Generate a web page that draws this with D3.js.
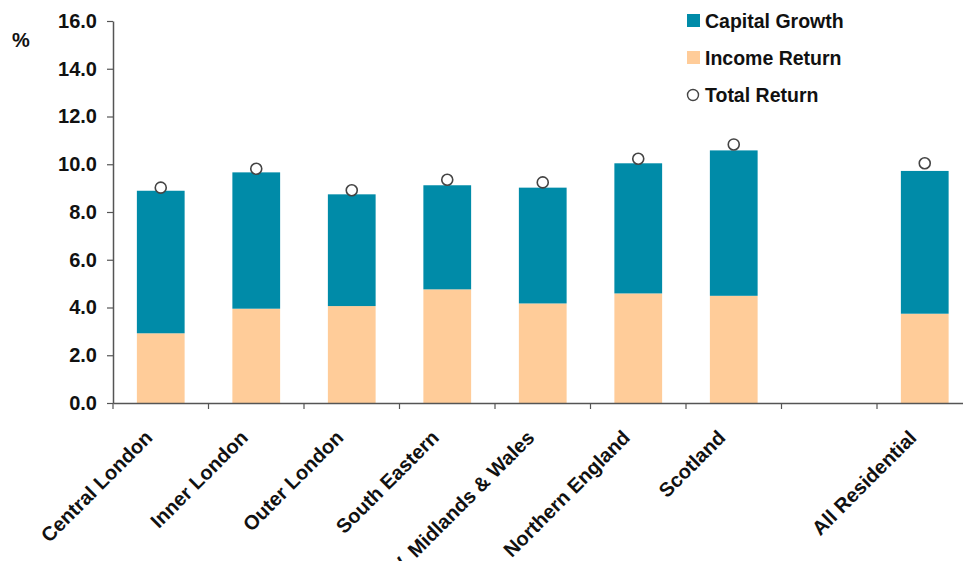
<!DOCTYPE html>
<html>
<head>
<meta charset="utf-8">
<script src="https://cdn.jsdelivr.net/npm/d3@7"></script>
<style>
  html, body { margin: 0; padding: 0; background: #fff; }
  svg { display: block; font-family: "Liberation Sans", Arial, sans-serif; }
</style>
</head>
<body>
<svg id="chart" width="963" height="561"></svg>
<script>
const categories = ["Central London", "Inner London", "Outer London", "South Eastern", "W. Midlands & Wales", "Northern England", "Scotland", "", "All Residential"];
const incomeReturn = [2.92, 3.95, 4.06, 4.76, 4.17, 4.59, 4.49, null, 3.74];
const capitalGrowth = [5.97, 5.71, 4.68, 4.36, 4.85, 5.45, 6.09, null, 5.98];
const totalReturn = [9.02, 9.81, 8.91, 9.35, 9.24, 10.23, 10.83, null, 10.04];
const yTicks = [0, 2, 4, 6, 8, 10, 12, 14, 16];
const legendLabels = ["Capital Growth", "Income Return", "Total Return"];

const colCapital = "#008BA8";
const colIncome = "#FFCC99";

const svg = d3.select("#chart");
const mLeft = 113, mBottom = 403, mTop = 21;
const step = 95.5;
const keys = categories.map((c, i) => i);
const x = d3.scaleBand().domain(keys).range([mLeft, mLeft + step * categories.length]).padding(0);
const y = d3.scaleLinear().domain([0, 16]).range([mBottom, mTop]);
const barW = x.bandwidth() * 0.5;

// bars
const g = svg.append("g");
keys.forEach(i => {
  if (incomeReturn[i] == null) return;
  const bx = x(i) + (x.bandwidth() - barW) / 2;
  g.append("rect")
    .attr("x", bx).attr("width", barW)
    .attr("y", y(incomeReturn[i])).attr("height", y(0) - y(incomeReturn[i]))
    .attr("fill", colIncome);
  g.append("rect")
    .attr("x", bx).attr("width", barW)
    .attr("y", y(incomeReturn[i] + capitalGrowth[i])).attr("height", y(incomeReturn[i]) - y(incomeReturn[i] + capitalGrowth[i]))
    .attr("fill", colCapital);
});
// total return markers
keys.forEach(i => {
  if (totalReturn[i] == null) return;
  g.append("circle")
    .attr("cx", x(i) + x.bandwidth() / 2)
    .attr("cy", y(totalReturn[i]))
    .attr("r", 5.5)
    .attr("fill", "#fff")
    .attr("stroke", "#444")
    .attr("stroke-width", 1.6);
});

// y axis
const yAxis = svg.append("g")
  .attr("transform", `translate(${mLeft},0)`)
  .call(d3.axisLeft(y).tickValues(yTicks).tickFormat(d3.format(".1f")).tickSize(6).tickSizeOuter(0).tickPadding(10));
yAxis.select(".domain").attr("stroke", "#555").attr("stroke-width", 1.5);
yAxis.selectAll(".tick line").attr("stroke", "#555").attr("stroke-width", 1.2);
yAxis.selectAll(".tick text")
  .attr("font-size", 20).attr("font-weight", "bold").attr("fill", "#111")
  .attr("font-family", "Liberation Sans, Arial, sans-serif");

// x axis
const xAxis = svg.append("g")
  .attr("transform", `translate(0,${mBottom})`)
  .call(d3.axisBottom(x).tickSize(0).tickSizeOuter(0).tickFormat(i => categories[i]));
xAxis.select(".domain").attr("stroke", "#555").attr("stroke-width", 1.5);
xAxis.selectAll(".tick text")
  .attr("font-size", 20).attr("font-weight", "bold").attr("fill", "#111")
  .attr("font-family", "Liberation Sans, Arial, sans-serif")
  .attr("text-anchor", "end")
  .attr("transform", "translate(-12,31) rotate(-45)")
  .attr("dy", "0.35em")
  .attr("y", 0);
// boundary ticks
const bounds = keys.map(i => x(i)).concat([x(keys[keys.length - 1]) + x.bandwidth()]);
xAxis.selectAll(".btick").data(bounds).enter().append("line")
  .attr("x1", d => d).attr("x2", d => d)
  .attr("y1", 0).attr("y2", 6)
  .attr("stroke", "#555").attr("stroke-width", 1.2);

// % label
svg.append("text").attr("x", 12).attr("y", 47)
  .attr("font-size", 20).attr("font-weight", "bold").attr("fill", "#111")
  .text("%");

// legend
const lg = svg.append("g");
const rowsY = [21, 58, 95];
legendLabels.forEach((lab, i) => {
  if (i < 2) {
    lg.append("rect").attr("x", 687).attr("y", rowsY[i] - 7).attr("width", 13).attr("height", 13)
      .attr("fill", i === 0 ? colCapital : colIncome);
  } else {
    lg.append("circle").attr("cx", 693).attr("cy", rowsY[i]).attr("r", 5.5)
      .attr("fill", "#fff").attr("stroke", "#444").attr("stroke-width", 1.4);
  }
  lg.append("text").attr("x", 705).attr("y", rowsY[i]).attr("dy", "0.35em")
    .attr("font-size", 19.5).attr("font-weight", "bold").attr("fill", "#111")
    .text(lab);
});
</script>
</body>
</html>
